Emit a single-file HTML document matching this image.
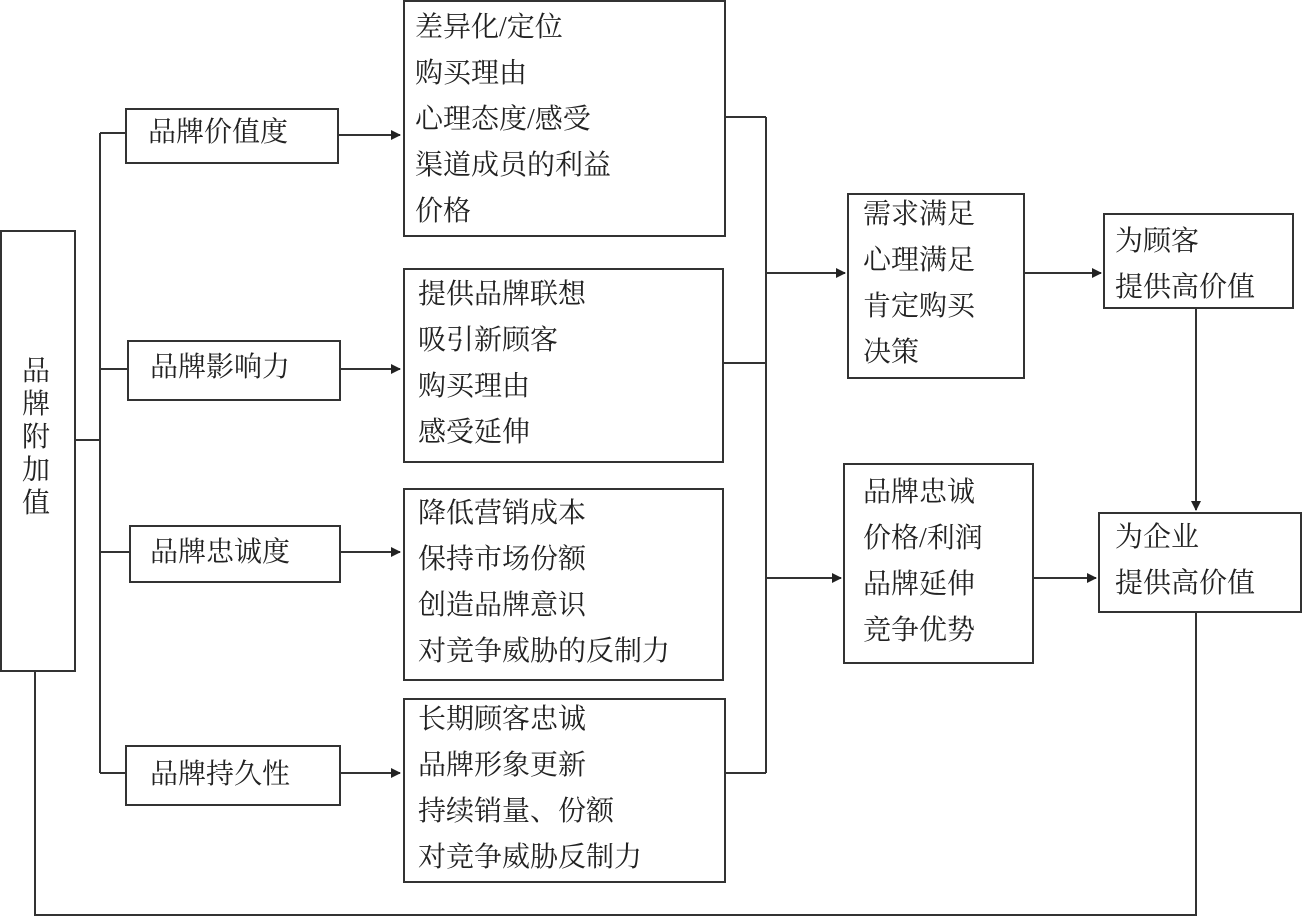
<!DOCTYPE html>
<html><head><meta charset="utf-8"><style>
body{margin:0;background:#fff;}
.c{position:relative;width:1302px;height:918px;overflow:hidden;font-family:"Liberation Serif","Noto Serif CJK SC","Noto Sans CJK SC",serif;color:#222;}
.b{position:absolute;border:2px solid #333;box-sizing:border-box;background:#fff;}
.t{position:absolute;font-size:28px;line-height:46px;white-space:nowrap;}
svg{position:absolute;left:0;top:0;}
</style></head><body><div class="c">
<svg width="1302" height="918">
<defs><marker id="a" markerWidth="10" markerHeight="10" refX="9" refY="5" orient="auto" markerUnits="userSpaceOnUse"><path d="M0,0 L10,5 L0,10 Z" fill="#222"/></marker></defs>
<g stroke="#333" stroke-width="2" fill="none">
<line x1="75" y1="440" x2="100" y2="440"/>
<line x1="100" y1="133" x2="100" y2="773"/>
<line x1="100" y1="133" x2="125" y2="133"/>
<line x1="100" y1="369" x2="127" y2="369"/>
<line x1="100" y1="552" x2="129" y2="552"/>
<line x1="100" y1="773" x2="125" y2="773"/>
<line x1="338" y1="135" x2="400" y2="135" marker-end="url(#a)"/>
<line x1="340" y1="369" x2="400" y2="369" marker-end="url(#a)"/>
<line x1="340" y1="552" x2="400" y2="552" marker-end="url(#a)"/>
<line x1="340" y1="773" x2="400" y2="773" marker-end="url(#a)"/>
<line x1="725" y1="117" x2="766" y2="117"/>
<line x1="723" y1="363" x2="766" y2="363"/>
<line x1="725" y1="773" x2="766" y2="773"/>
<line x1="766" y1="117" x2="766" y2="773"/>
<line x1="766" y1="273" x2="845" y2="273" marker-end="url(#a)"/>
<line x1="766" y1="578" x2="841" y2="578" marker-end="url(#a)"/>
<line x1="1024" y1="273" x2="1101" y2="273" marker-end="url(#a)"/>
<line x1="1033" y1="578" x2="1096" y2="578" marker-end="url(#a)"/>
<line x1="1196" y1="308" x2="1196" y2="510" marker-end="url(#a)"/>
<polyline points="35,671 35,915 1196,915 1196,612"/>
</g></svg>
<div class="b" style="left:0;top:230px;width:76px;height:442px"></div>
<div class="t" style="left:20px;top:355px;width:32px;white-space:normal;line-height:33px;text-align:center">品牌附加值</div>
<div class="b" style="left:125px;top:108px;width:214px;height:56px"></div><div class="t" style="left:148px;top:110px">品牌价值度</div>
<div class="b" style="left:127px;top:340px;width:214px;height:61px"></div><div class="t" style="left:150px;top:345px">品牌影响力</div>
<div class="b" style="left:129px;top:525px;width:212px;height:58px"></div><div class="t" style="left:150px;top:530px">品牌忠诚度</div>
<div class="b" style="left:125px;top:745px;width:216px;height:61px"></div><div class="t" style="left:150px;top:752px">品牌持久性</div>
<div class="b" style="left:403px;top:0;width:323px;height:237px"></div>
<div class="t" style="left:415px;top:5px">差异化/定位<br>购买理由<br>心理态度/感受<br>渠道成员的利益<br>价格</div>
<div class="b" style="left:403px;top:268px;width:321px;height:195px"></div>
<div class="t" style="left:418px;top:272px">提供品牌联想<br>吸引新顾客<br>购买理由<br>感受延伸</div>
<div class="b" style="left:403px;top:488px;width:321px;height:193px"></div>
<div class="t" style="left:418px;top:491px">降低营销成本<br>保持市场份额<br>创造品牌意识<br>对竞争威胁的反制力</div>
<div class="b" style="left:403px;top:698px;width:323px;height:185px"></div>
<div class="t" style="left:418px;top:697px">长期顾客忠诚<br>品牌形象更新<br>持续销量、份额<br>对竞争威胁反制力</div>
<div class="b" style="left:847px;top:193px;width:178px;height:186px"></div>
<div class="t" style="left:863px;top:192px">需求满足<br>心理满足<br>肯定购买<br>决策</div>
<div class="b" style="left:843px;top:463px;width:191px;height:201px"></div>
<div class="t" style="left:863px;top:470px">品牌忠诚<br>价格/利润<br>品牌延伸<br>竞争优势</div>
<div class="b" style="left:1103px;top:213px;width:191px;height:96px"></div>
<div class="t" style="left:1115px;top:219px">为顾客<br>提供高价值</div>
<div class="b" style="left:1098px;top:512px;width:204px;height:101px"></div>
<div class="t" style="left:1115px;top:515px">为企业<br>提供高价值</div>
</div></body></html>
